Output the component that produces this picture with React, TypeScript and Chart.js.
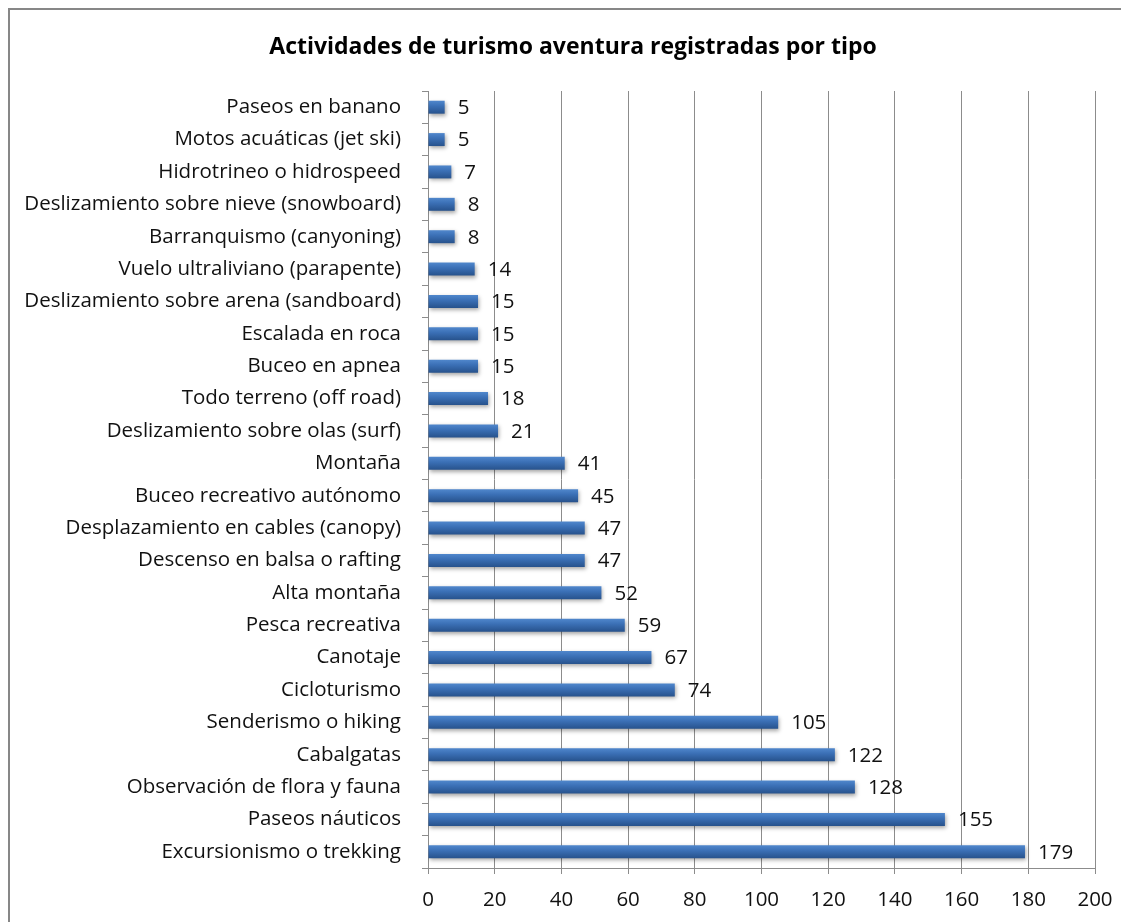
import React, { useEffect, useRef } from "react";
import { Chart, registerables } from "chart.js";

Chart.register(...registerables);

const TITLE = "Actividades de turismo aventura registradas por tipo";

const categories: string[] = [
  "Paseos en banano",
  "Motos acuáticas (jet ski)",
  "Hidrotrineo o hidrospeed",
  "Deslizamiento sobre nieve (snowboard)",
  "Barranquismo (canyoning)",
  "Vuelo ultraliviano (parapente)",
  "Deslizamiento sobre arena (sandboard)",
  "Escalada en roca",
  "Buceo en apnea",
  "Todo terreno (off road)",
  "Deslizamiento sobre olas (surf)",
  "Montaña",
  "Buceo recreativo autónomo",
  "Desplazamiento en cables (canopy)",
  "Descenso en balsa o rafting",
  "Alta montaña",
  "Pesca recreativa",
  "Canotaje",
  "Cicloturismo",
  "Senderismo o hiking",
  "Cabalgatas",
  "Observación de flora y fauna",
  "Paseos náuticos",
  "Excursionismo o trekking",
];

const values: number[] = [
  5, 5, 7, 8, 8, 14, 15, 15, 15, 18, 21, 41, 45, 47, 47, 52, 59, 67, 74, 105,
  122, 128, 155, 179,
];

const xTicks: number[] = [0, 20, 40, 60, 80, 100, 120, 140, 160, 180, 200];

const FONT = "'Open Sans', 'Noto Sans', sans-serif";
const FONT_SIZE = 20.5;
const GRID = "#8c8c8c";

const titlePlugin = {
  id: "customTitle",
  afterDraw(chart: any) {
    const c = chart.ctx;
    c.save();
    c.font = `bold 23px ${FONT}`;
    c.fillStyle = "#000";
    c.textAlign = "center";
    c.textBaseline = "middle";
    c.fillText(TITLE, 563, 37);
    c.restore();
  },
};

const barStyle = {
  id: "barStyle",
  beforeDatasetsDraw(chart: any) {
    const c = chart.ctx;
    const meta = chart.getDatasetMeta(0);
    meta.data.forEach((el: any) => {
      const h = el.height;
      const top = el.y - h / 2;
      const g = c.createLinearGradient(0, top, 0, top + h);
      g.addColorStop(0, "#5087cc");
      g.addColorStop(0.4, "#3b70b6");
      g.addColorStop(1, "#27528c");
      el.options = { ...el.options, backgroundColor: g };
    });
    c.save();
    c.shadowColor = "rgba(0,0,0,0.35)";
    c.shadowBlur = 4;
    c.shadowOffsetX = 1;
    c.shadowOffsetY = 2;
  },
  afterDatasetsDraw(chart: any) {
    const c = chart.ctx;
    c.restore();
    const meta = chart.getDatasetMeta(0);
    c.save();
    c.font = `${FONT_SIZE}px ${FONT}`;
    c.fillStyle = "#111";
    c.textAlign = "left";
    c.textBaseline = "middle";
    meta.data.forEach((el: any, i: number) => {
      c.fillText(String(values[i]), el.x + 13, el.y + 1);
    });
    c.restore();
  },
};

export default function App() {
  const ref = useRef<HTMLCanvasElement>(null);
  useEffect(() => {
    if (!ref.current) return;
    const chart = new Chart(ref.current, {
      type: "bar",
      data: {
        labels: categories,
        datasets: [
          {
            data: values,
            backgroundColor: "#3b70b6",
            borderWidth: 0,
            barPercentage: 0.4,
            categoryPercentage: 1,
          },
        ],
      },
      plugins: [barStyle, titlePlugin],
      options: {
        indexAxis: "y",
        animation: false,
        responsive: false,
        maintainAspectRatio: false,
        layout: { padding: { left: 0, right: 34, top: 81, bottom: 0 } },
        plugins: {
          legend: { display: false },
          tooltip: { enabled: false },
          title: { display: false },
        },
        scales: {
          x: {
            min: 0,
            max: 200,
            afterFit(scale: any) {
              scale.height = 54;
            },
            afterBuildTicks(scale: any) {
              scale.ticks = xTicks.map((v) => ({ value: v }));
            },
            grid: {
              color: GRID,
              lineWidth: 1,
              tickLength: 6,
              drawTicks: true,
            },
            border: { color: GRID, width: 1 },
            ticks: {
              color: "#111",
              padding: 14,
              font: { family: FONT, size: FONT_SIZE },
              maxRotation: 0,
            },
          },
          y: {
            afterFit(scale: any) {
              scale.width = 418;
            },
            grid: {
              drawOnChartArea: false,
              drawTicks: true,
              tickLength: 6,
              color: GRID,
              offset: true,
            },
            border: { color: GRID, width: 1 },
            ticks: {
              color: "#111",
              padding: 21,
              autoSkip: false,
              font: { family: FONT, size: FONT_SIZE },
            },
          },
        },
      },
    });
    return () => chart.destroy();
  }, []);
  return (
    <div
      style={{
        width: 1119,
        height: 912,
        borderTop: "2px solid #878787",
        borderLeft: "2px solid #878787",
        background: "#fff",
      }}
    >
      <canvas ref={ref} width={1119} height={912} style={{ display: "block" }} />
    </div>
  );
}
